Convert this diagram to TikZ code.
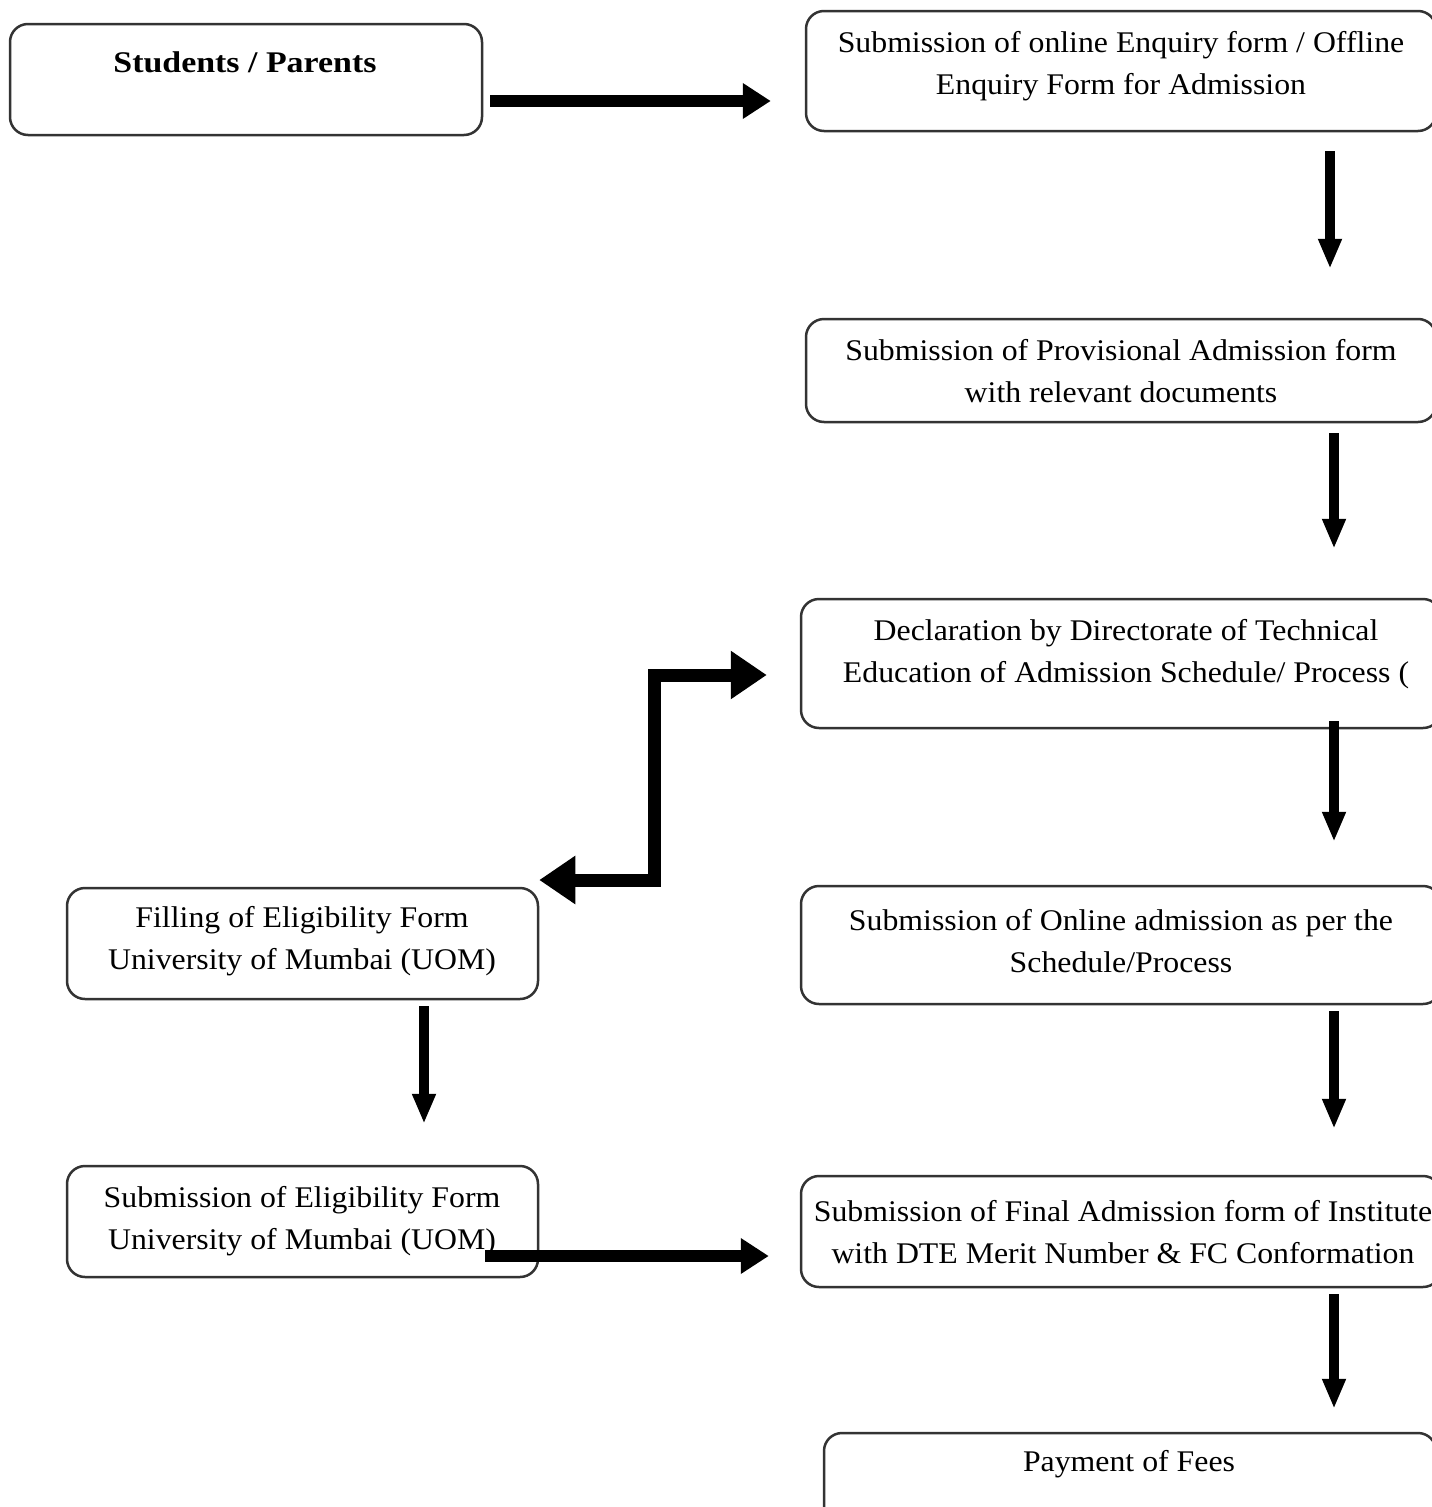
\documentclass[tikz,border=0pt]{standalone}
\usepackage{fontspec}
\setmainfont{Liberation Serif}[FakeStretch=1.06, BoldFeatures={FakeStretch=1.13}]
\usetikzlibrary{arrows.meta}

\begin{document}
\begin{tikzpicture}[
  x=1pt, y=-1pt,
  box/.style={draw=black!80, line width=2.5pt, rounded corners=18pt,
    fill=white, minimum height=#1, inner sep=0pt},
  rightbox/.style={box=#1, minimum width=630pt},
  leftbox/.style={box=#1, minimum width=471pt},
  txt/.style={align=center, inner sep=0pt,
    font=\fontsize{30}{42}\selectfont},
  down/.style={line width=10pt, -{Triangle[width=22pt,length=30pt]}},
  across/.style={line width=12pt, -{Triangle[width=34pt,length=28pt]}},
  elbow/.style={line width=13pt, line join=miter,
    {Triangle[width=46pt,length=36pt]}-{Triangle[width=46pt,length=36pt]}}
]
\useasboundingbox (0,0) rectangle (1432,1507);
\clip (0,0) rectangle (1432,1507);

% boxes
\node[box=111pt, minimum width=472pt] (stud) at (246,79.5) {};
\node[rightbox=120pt] (enq) at (1121,71) {};
\node[rightbox=103pt] (prov) at (1121,370.5) {};
\node[rightbox=129pt, minimum width=640pt] (decl) at (1121,663.5) {};
\node[rightbox=118pt, minimum width=640pt] (onl) at (1121,945) {};
\node[rightbox=111pt, minimum width=640pt] (fin) at (1121,1231.5) {};
\node[rightbox=107pt, minimum width=612pt] (fees) at (1130,1486.5) {};
\node[leftbox=111pt] (fill) at (302.5,943.5) {};
\node[leftbox=111pt] (subm) at (302.5,1221.5) {};

% texts
\node[txt, font=\fontsize{30}{42}\selectfont\bfseries] (stud-t) at (245,62) {Students / Parents};
\node[txt] (enq-t) at (1121,66) {Submission of online Enquiry form / Offline\\Enquiry Form for Admission};
\node[txt] (prov-t) at (1121,371) {Submission of Provisional Admission form\\with relevant documents};
\node[txt] (decl-t) at (1126,654) {Declaration by Directorate of Technical\\Education of Admission Schedule/ Process (};
\node[txt] (onl-t) at (1121,941) {Submission of Online admission as per the\\Schedule/Process};
\node[txt] (fin-t) at (1123,1232) {Submission of Final Admission form of Institute\\with DTE Merit Number \& FC Conformation};
\node[txt] (fees-t) at (1129,1464) {Payment of Fees};
\node[txt] (fill-t) at (302,941) {Filling of Eligibility Form\\University of Mumbai (UOM)};
\node[txt] (subm-t) at (302,1221) {Submission of Eligibility Form\\University of Mumbai (UOM)};

% connectors
\draw[across, shorten <=7pt, shorten >=34pt]
  ([yshift=-21.5pt]stud.east) -- ([yshift=-30pt]enq.west);
\draw[down, shorten <=19pt, shorten >=49pt]
  ([xshift=209pt]enq.south) -- ([xshift=209pt]prov.north);
\draw[down, shorten <=10pt, shorten >=49pt]
  ([xshift=213pt]prov.south) -- ([xshift=213pt]decl.north);
\draw[down, shorten <=-8pt, shorten >=43pt]
  ([xshift=213pt]decl.south) -- ([xshift=213pt]onl.north);
\draw[down, shorten <=6pt, shorten >=46pt]
  ([xshift=213pt]onl.south) -- ([xshift=213pt]fin.north);
\draw[down, shorten <=6pt, shorten >=23pt]
  ([xshift=213pt]fin.south) -- ([xshift=204pt]fees.north);
\draw[down, shorten <=6pt, shorten >=41pt]
  ([xshift=121.5pt]fill.south) -- ([xshift=121.5pt]subm.north);
\draw[elbow, shorten >=33pt]
  ([yshift=63.5pt]fill.east) -- ++(115,0) |- ([yshift=-11.5pt]decl.west);
\draw[across, shorten <=-54pt, shorten >=31pt]
  ([yshift=-34.5pt]subm.east) -- ([yshift=-24.5pt]fin.west);
\end{tikzpicture}
\end{document}
